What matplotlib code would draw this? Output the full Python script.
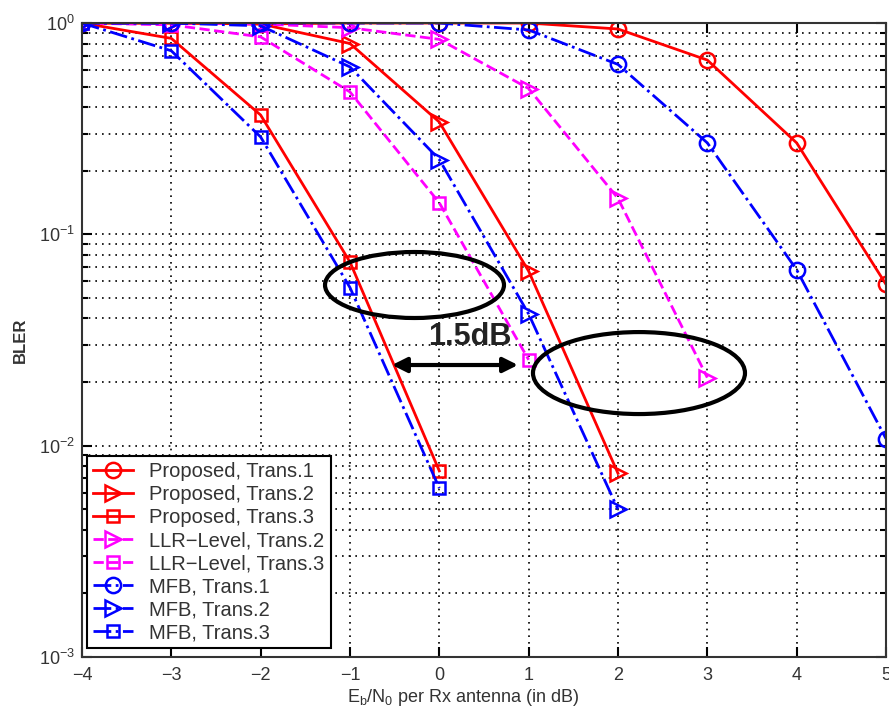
import numpy as np
import matplotlib
matplotlib.use('Agg')
import matplotlib.pyplot as plt
from matplotlib.patches import Ellipse

plt.rcParams['font.family'] = ['Liberation Sans', 'DejaVu Sans']
plt.rcParams['mathtext.fontset'] = 'custom'
plt.rcParams['mathtext.rm'] = 'Liberation Sans'
plt.rcParams['mathtext.it'] = 'Liberation Sans'

# Eb/N0 (dB) grid and BLER curves
ebn0 = [-4, -3, -2, -1, 0, 1, 2, 3, 4, 5]

prop_t1 = [1.0, 1.0, 0.99, 1.0, 1.0, 1.0, 0.937, 0.668, 0.271, 0.058]
prop_t2 = [1.0, 1.0, 0.99, 0.80, 0.34, 0.067, 0.0074]
prop_t3 = [1.0, 0.846, 0.367, 0.074, 0.0076]
llr_t2 = [1.0, 1.0, 0.99, 0.95, 0.837, 0.49, 0.148, 0.021]
llr_t3 = [1.0, 0.98, 0.86, 0.472, 0.141, 0.0255]
mfb_t1 = [1.0, 1.0, 1.0, 1.0, 1.0, 0.927, 0.637, 0.271, 0.068, 0.0108]
mfb_t2 = [1.0, 1.0, 0.97, 0.62, 0.226, 0.042, 0.005]
mfb_t3 = [1.0, 0.739, 0.289, 0.056, 0.0063]

labels = ['Proposed, Trans.1', 'Proposed, Trans.2', 'Proposed, Trans.3',
          'LLR\u2212Level, Trans.2', 'LLR\u2212Level, Trans.3',
          'MFB, Trans.1', 'MFB, Trans.2', 'MFB, Trans.3']
series = [prop_t1, prop_t2, prop_t3, llr_t2, llr_t3, mfb_t1, mfb_t2, mfb_t3]
colors = ['#ff0000'] * 3 + ['#ff00ff'] * 2 + ['#0000ff'] * 3
styles = ['-', '-', '-', '--', '--', '-.', '-.', '-.']
markers = ['o', '>', 's', '>', 's', 'o', '>', 's']
msizes = {'o': 11, '>': 11, 's': 9}

fig = plt.figure(figsize=(8.89, 7.13), dpi=100)
ax = fig.add_axes([0.0922, 0.0785, 0.9044, 0.8892])

for y, lab, c, ls, m in zip(series, labels, colors, styles, markers):
    ax.plot(ebn0[:len(y)], y, linestyle=ls, color=c, lw=2, marker=m,
            ms=msizes[m], mfc='none', mec=c, mew=1.8, label=lab)

ax.set_yscale('log')
ax.set_xlim(-4, 5)
ax.set_ylim(1e-3, 1)
ax.set_xticks(ebn0)

grid_ls = (0, (1, 3))
ax.grid(True, which='major', color='black', linestyle=grid_ls, lw=1.2)
ax.grid(True, which='minor', axis='y', color='black', linestyle=grid_ls, lw=1.2)

ax.tick_params(which='both', direction='in', top=True, right=True,
               labelsize=13, labelcolor='#333333', width=1.5)
ax.tick_params(which='major', length=7)
ax.tick_params(which='minor', length=4)
ax.tick_params(axis='x', pad=7)
ax.tick_params(axis='y', pad=5)
for s in ax.spines.values():
    s.set_linewidth(1.5)
    s.set_color('#333333')

ax.set_xlabel('$E_b/N_0$ per Rx antenna (in dB)', fontsize=13, color='#333333')
ax.xaxis.set_label_coords(0.474, -0.048)
ax.set_ylabel('BLER', fontsize=12, fontweight='bold', color='#333333')
ax.yaxis.set_label_coords(-0.067, 0.5)

leg = ax.legend(loc='lower left', bbox_to_anchor=(0.006, 0.014), borderaxespad=0,
                fontsize=14.5, labelspacing=0.2, handlelength=2.0, handletextpad=0.8,
                borderpad=0.3, fancybox=False, framealpha=1, edgecolor='black')
leg.get_frame().set_linewidth(1.5)
for t in leg.get_texts():
    t.set_color('#333333')

# annotations: two ellipses and the 1.5 dB gap arrow
ax.add_patch(Ellipse((0.4136, 0.5868), 0.2226, 0.1041, transform=ax.transAxes,
                     fill=False, ec='black', lw=3, zorder=5))
ax.add_patch(Ellipse((0.6928, 0.4479), 0.2637, 0.1293, transform=ax.transAxes,
                     fill=False, ec='black', lw=3, zorder=5))
ax.annotate('', xy=(0.3856, 0.4606), xytext=(0.5423, 0.4606),
            xycoords='axes fraction', textcoords='axes fraction',
            arrowprops=dict(arrowstyle='<|-|>', color='black', lw=3,
                            mutation_scale=22, shrinkA=0, shrinkB=0))
ax.text(0.4826, 0.5047, '1.5dB', transform=ax.transAxes, fontsize=22,
        fontweight='bold', color='#222222', ha='center', va='center')

fig.savefig('out.png', dpi=100)
